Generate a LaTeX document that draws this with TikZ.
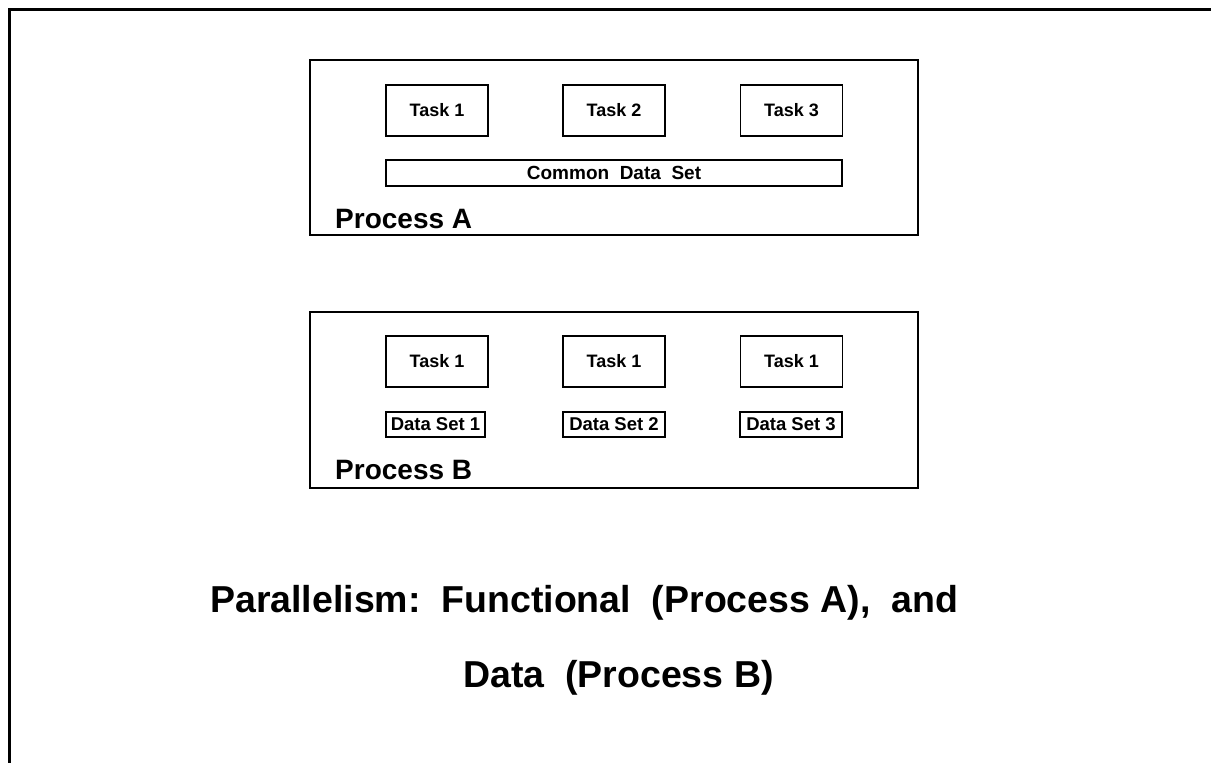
\documentclass[tikz,border=0pt]{standalone}
\usepackage{fontspec}
\setmainfont{Liberation Sans}
\begin{document}
\begin{tikzpicture}[x=1pt,y=-1pt,
  procbox/.style={draw,line width=1.1pt,inner sep=0pt},
  taskbox/.style={draw,line width=1.1pt,inner sep=0pt,minimum width=102pt,minimum height=51pt,
    font=\fontsize{18}{18}\selectfont\bfseries},
  databox/.style={draw,line width=1.1pt,inner sep=0pt,minimum height=26pt,
    font=\fontsize{19}{19}\selectfont\bfseries},
  setbox/.style={draw,line width=2pt,inner sep=0pt,minimum height=25pt,
    font=\fontsize{18.5}{18.5}\selectfont\bfseries},
  proclabel/.style={anchor=base west,inner sep=0pt,font=\fontsize{28}{28}\selectfont\bfseries},
  titletext/.style={anchor=base west,inner sep=0pt,font=\fontsize{37.5}{37.5}\selectfont\bfseries}]
\useasboundingbox (0,0) rectangle (1211,763);

% page frame: top and left edges only
\draw[line width=3pt] (9.5,763) -- (9.5,9.5) -- (1211,9.5);

% Process A: functional parallelism
\node[procbox,minimum width=608pt,minimum height=175pt] (procA) at (614,147.5) {};
\node[taskbox] (a1) at (437,110.5) {Task 1};
\node[taskbox] (a2) at (614,110.5) {Task 2};
\node[taskbox] (a3) at (791.5,110.5) {Task 3};
\node[databox,minimum width=456pt] (common) at (614,173) {Common\ \ Data\ \ Set};
\node[proclabel] (labA) at (335,228) {Process A};

% Process B: data parallelism
\node[procbox,minimum width=608pt,minimum height=176pt] (procB) at (614,400) {};
\node[taskbox] (b1) at (437,361.5) {Task 1};
\node[taskbox] (b2) at (614,361.5) {Task 1};
\node[taskbox] (b3) at (791.5,361.5) {Task 1};
\node[setbox,minimum width=99pt] (d1) at (435.5,424.5) {Data Set 1};
\node[setbox,minimum width=102pt] (d2) at (614,424.5) {Data Set 2};
\node[setbox,minimum width=102pt] (d3) at (791,424.5) {Data Set 3};
\node[proclabel] (labB) at (335,479) {Process B};

% caption
\node[titletext] (title1) at (210,612) {Parallelism:\ \ Functional\ \ (Process A),\ \ and};
\node[titletext] (title2) at (463,687) {Data\ \ (Process B)};
\end{tikzpicture}
\end{document}
